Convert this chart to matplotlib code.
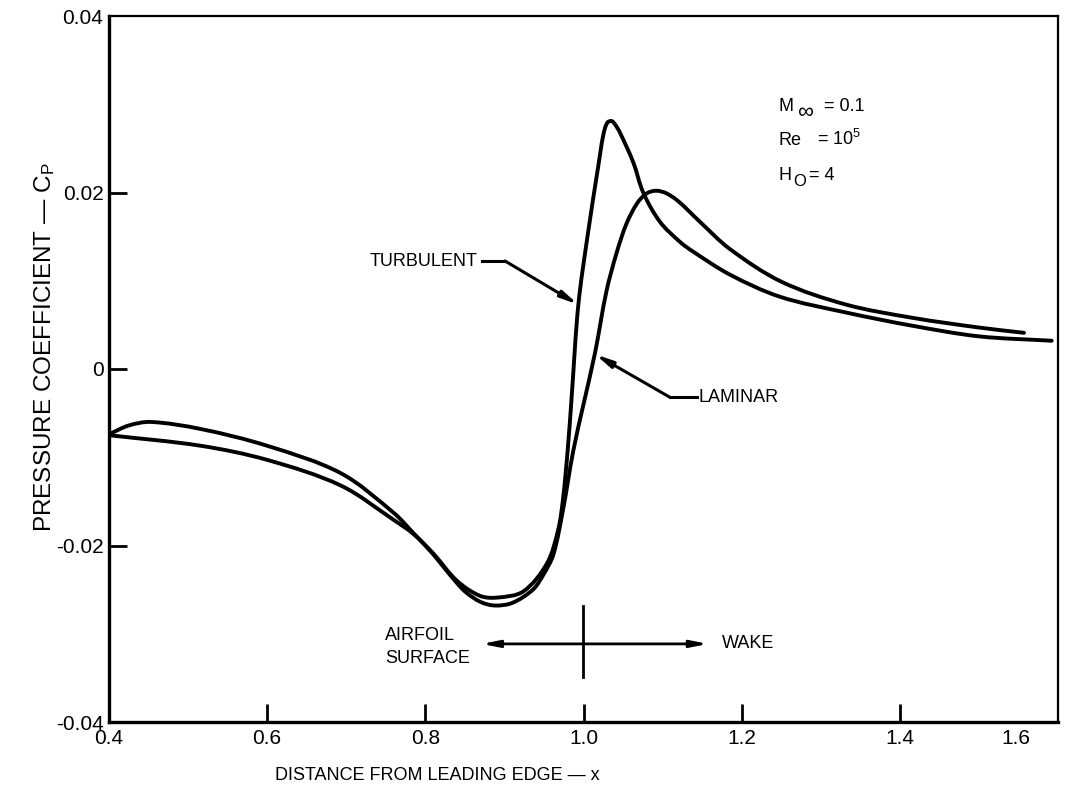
import matplotlib
matplotlib.use("Agg")
import numpy as np
import matplotlib.pyplot as plt
from matplotlib.transforms import ScaledTranslation
from matplotlib.path import Path
from matplotlib.patches import PathPatch

plt.rcParams['font.family'] = ['Liberation Sans', 'DejaVu Sans']
plt.rcParams['mathtext.fontset'] = 'custom'
plt.rcParams['mathtext.rm'] = 'Liberation Sans'
plt.rcParams['mathtext.it'] = 'Liberation Sans:italic'
plt.rcParams['mathtext.bf'] = 'Liberation Sans:bold'

# ---- data ----
laminar_x = [0.400, 0.425, 0.453, 0.516, 0.600, 0.693, 0.760, 0.785, 0.810, 0.830,
             0.850, 0.870, 0.888, 0.910, 0.936, 0.950, 0.962, 0.974, 0.987, 1.000,
             1.0145, 1.029, 1.042, 1.0545, 1.068, 1.080, 1.092, 1.105, 1.120, 1.147,
             1.185, 1.250, 1.332, 1.416, 1.500, 1.557]
laminar_y = [-0.0074, -0.0064, -0.0060, -0.0068, -0.0087, -0.0118, -0.0163, -0.0186, -0.0210, -0.0232,
             -0.0252, -0.0264, -0.0268, -0.0265, -0.0250, -0.0232, -0.0210, -0.0160, -0.0093, -0.0040,
             0.0018, 0.0088, 0.0132, 0.0165, 0.0188, 0.0199, 0.0202, 0.0199, 0.0190, 0.0167,
             0.0136, 0.0099, 0.0073, 0.0058, 0.0047, 0.0041]

turbulent_x = [0.400, 0.516, 0.600, 0.693, 0.760, 0.785, 0.810, 0.840, 0.869, 0.891,
               0.924, 0.954, 0.968, 0.974, 0.980, 0.985, 0.9935, 1.006, 1.0187, 1.025,
               1.030, 1.0356, 1.040, 1.046, 1.063, 1.0755, 1.0965, 1.122, 1.1386, 1.185,
               1.248, 1.332, 1.416, 1.500, 1.592]
turbulent_y = [-0.0075, -0.0087, -0.0103, -0.0132, -0.0171, -0.0187, -0.0209, -0.0240, -0.0257, -0.0259,
               -0.0252, -0.0220, -0.0182, -0.0148, -0.0092, -0.0032, 0.0073, 0.0156, 0.0230, 0.0265,
               0.0279, 0.0281, 0.0277, 0.0268, 0.0234, 0.0200, 0.0167, 0.0144, 0.0133, 0.0107,
               0.0082, 0.0064, 0.0049, 0.0037, 0.0032]

x_ticks = [0.4, 0.6, 0.8, 1.0, 1.2, 1.4, 1.6]
x_tick_labels = ['0.4', '0.6', '0.8', '1.0', '1.2', '1.4', '1.6']
y_ticks = [-0.04, -0.02, 0.0, 0.02, 0.04]
y_tick_labels = ['-0.04', '-0.02', '0', '0.02', '0.04']

fig = plt.figure(figsize=(10.78, 7.90), dpi=100)
ax = fig.add_axes([109/1078, 1 - 722/790, (1058-109)/1078, (722-16)/790])
ax.set_xlim(0.4, 1.6)
ax.set_ylim(-0.04, 0.04)


def smooth_curve(ax, xs, ys, **kw):
    """Draw a smooth line passing through every data point (chord-length
    Catmull-Rom rendered as cubic Bezier segments in data coordinates)."""
    P = np.column_stack([xs, ys]).astype(float)
    D = ax.transData.transform(P)          # display metric for spacing only
    n = len(P)
    d = np.linalg.norm(np.diff(D, axis=0), axis=1)
    T = np.zeros_like(P)
    for i in range(n):
        if i == 0:
            T[i] = (P[1] - P[0]) / d[0]
        elif i == n - 1:
            T[i] = (P[-1] - P[-2]) / d[-1]
        else:
            T[i] = (P[i + 1] - P[i - 1]) / (d[i - 1] + d[i])
    verts = [P[0]]
    codes = [Path.MOVETO]
    for i in range(n - 1):
        c1 = P[i] + T[i] * d[i] / 3.0
        c2 = P[i + 1] - T[i + 1] * d[i] / 3.0
        verts += [c1, c2, P[i + 1]]
        codes += [Path.CURVE4] * 3
    patch = PathPatch(Path(verts, codes), fill=False, transform=ax.transData, **kw)
    ax.add_patch(patch)


smooth_curve(ax, laminar_x, laminar_y, edgecolor='black', lw=2.8, capstyle='round', joinstyle='round')
smooth_curve(ax, turbulent_x, turbulent_y, edgecolor='black', lw=2.8, capstyle='round', joinstyle='round')

ax.set_xticks(x_ticks)
ax.set_xticklabels(x_tick_labels)
ax.set_yticks(y_ticks)
ax.set_yticklabels(y_tick_labels)
ax.tick_params(axis='both', direction='in', length=13, width=2.0, labelsize=15,
               top=False, right=False, color='black')
ax.tick_params(axis='x', pad=5)
ax.tick_params(axis='y', pad=4)
for t in ax.xaxis.get_major_ticks():
    if abs(t.get_loc() - 0.4) < 1e-9 or abs(t.get_loc() - 1.6) < 1e-9:
        t.tick1line.set_visible(False)
for t in ax.yaxis.get_major_ticks():
    if abs(t.get_loc() + 0.04) < 1e-9 or abs(t.get_loc() - 0.04) < 1e-9:
        t.tick1line.set_visible(False)
labs = ax.get_xticklabels()
labs[-1].set_transform(labs[-1].get_transform() + ScaledTranslation(-0.42, 0, fig.dpi_scale_trans))

for s in ['left', 'bottom']:
    ax.spines[s].set_linewidth(2.4)
for s in ['top', 'right']:
    ax.spines[s].set_linewidth(1.6)

# axis labels
fig.text(437/1078, 1 - 775/790, 'DISTANCE FROM LEADING EDGE \u2014 x', ha='center', va='center', fontsize=13)
fig.text(45/1078, 1 - 347/790, 'PRESSURE COEFFICIENT \u2014 C$_\\mathregular{P}$', ha='center', va='center',
         rotation=90, fontsize=17.5)

# annotations
ann = 13
arrow_style = '-|>,head_length=1.0,head_width=0.2'
ax.text(0.8654, 0.0122, 'TURBULENT', ha='right', va='center', fontsize=ann)
ax.plot([0.8713, 0.9008], [0.01224, 0.01224], color='black', lw=2.2)
ax.annotate('', xy=(0.9935, 0.00729), xytext=(0.9008, 0.01224),
            arrowprops=dict(arrowstyle=arrow_style, color='black', lw=2.2, shrinkA=0, shrinkB=0))

ax.text(1.1448, -0.0032, 'LAMINAR', ha='left', va='center', fontsize=ann)
ax.plot([1.1432, 1.1094], [-0.00321, -0.00321], color='black', lw=2.2)
ax.annotate('', xy=(1.0146, 0.00167), xytext=(1.1094, -0.00321),
            arrowprops=dict(arrowstyle=arrow_style, color='black', lw=2.2, shrinkA=0, shrinkB=0))

# airfoil / wake marker
ax.plot([0.999, 0.999], [-0.0268, -0.0349], color='black', lw=2.0)
ax.annotate('', xy=(0.8713, -0.03115), xytext=(0.999, -0.03115),
            arrowprops=dict(arrowstyle=arrow_style, color='black', lw=2.0, shrinkA=0, shrinkB=0))
ax.annotate('', xy=(1.1575, -0.03115), xytext=(0.999, -0.03115),
            arrowprops=dict(arrowstyle=arrow_style, color='black', lw=2.0, shrinkA=0, shrinkB=0))
ax.text(0.749, -0.0302, 'AIRFOIL', ha='left', va='center', fontsize=ann)
ax.text(0.749, -0.0328, 'SURFACE', ha='left', va='center', fontsize=ann)
ax.text(1.1748, -0.0311, 'WAKE', ha='left', va='center', fontsize=ann)

# flow conditions
ax.text(1.246, 0.02923, 'M', ha='left', va='baseline', fontsize=ann)
ax.text(1.2705, 0.02923, '\u221e', ha='left', va='baseline', fontsize=ann + 3,
        transform=ax.transData + ScaledTranslation(0, -0.07, fig.dpi_scale_trans))
ax.text(1.3040, 0.02923, '= 0.1', ha='left', va='baseline', fontsize=ann)
ax.text(1.246, 0.02537, 'Re', ha='left', va='baseline', fontsize=ann)
ax.text(1.2953, 0.02537, '= 10$^\\mathregular{5}$', ha='left', va='baseline', fontsize=ann)
ax.text(1.246, 0.02136, 'H', ha='left', va='baseline', fontsize=ann)
ax.text(1.2655, 0.02136, 'O', ha='left', va='baseline', fontsize=ann - 1,
        transform=ax.transData + ScaledTranslation(0, -0.06, fig.dpi_scale_trans))
ax.text(1.2850, 0.02136, '= 4', ha='left', va='baseline', fontsize=ann)

fig.savefig('out.png', dpi=100, facecolor='white')
